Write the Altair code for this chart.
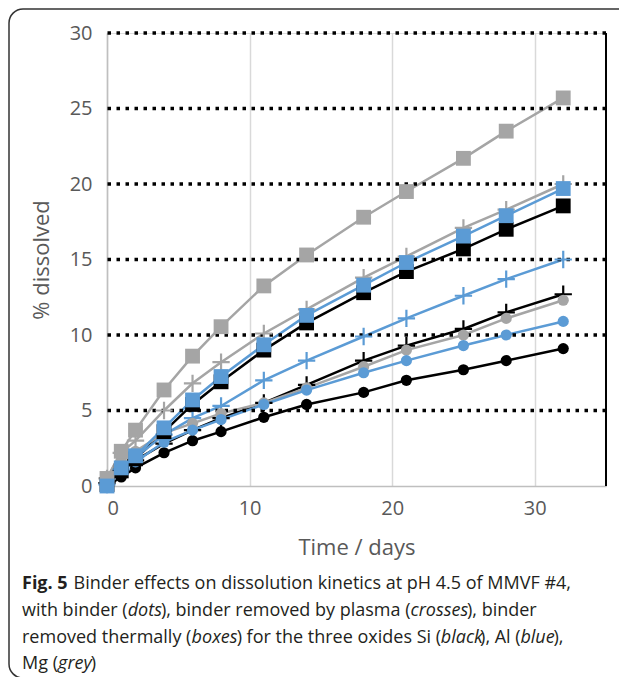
import altair as alt
import pandas as pd

# ---------------- data ----------------
days = [0, 1, 2, 4, 6, 8, 11, 14, 18, 21, 25, 28, 32]

si_dots = [0.0, 0.6, 1.2, 2.2, 3.0, 3.6, 4.55, 5.4, 6.2, 7.0, 7.7, 8.3, 9.1]
si_crosses = [0.2, 1.0, 1.7, 2.8, 3.7, 4.5, 5.5, 6.7, 8.3, 9.3, 10.4, 11.5, 12.7]
si_boxes = [0.1, 1.0, 1.8, 3.6, 5.4, 6.9, 9.0, 10.8, 12.8, 14.2, 15.7, 17.0, 18.55]
al_dots = [0.0, 0.95, 1.6, 2.9, 3.7, 4.4, 5.4, 6.35, 7.5, 8.3, 9.3, 10.0, 10.9]
al_crosses = [0.1, 1.1, 1.9, 3.4, 4.5, 5.3, 7.0, 8.3, 9.9, 11.1, 12.6, 13.7, 15.0]
al_boxes = [0.0, 1.2, 2.0, 3.85, 5.7, 7.25, 9.35, 11.3, 13.3, 14.8, 16.55, 17.9, 19.7]
mg_dots = [0.5, 1.6, 2.3, 3.5, 4.15, 4.8, 5.5, 6.5, 7.9, 9.0, 10.0, 11.1, 12.3]
mg_crosses = [0.5, 2.2, 3.0, 5.0, 6.8, 8.2, 10.1, 11.7, 13.8, 15.2, 17.1, 18.3, 20.0]
mg_boxes = [0.5, 2.3, 3.7, 6.36, 8.6, 10.55, 13.25, 15.3, 17.8, 19.5, 21.7, 23.5, 25.7]

oxides = ["Si", "Al", "Mg"]
oxide_colors = ["#000000", "#5b9bd5", "#a5a5a5"]
hgrid_values = [5, 10, 15, 20, 25, 30]
x_ticks = [0, 10, 20, 30]
y_ticks = [0, 5, 10, 15, 20, 25, 30]

series = [
    ("Si", "dots", si_dots), ("Si", "crosses", si_crosses), ("Si", "boxes", si_boxes),
    ("Mg", "dots", mg_dots), ("Mg", "crosses", mg_crosses), ("Mg", "boxes", mg_boxes),
    ("Al", "dots", al_dots), ("Al", "crosses", al_crosses), ("Al", "boxes", al_boxes),
]

rows = []
for k, (ox, tr, vals) in enumerate(series):
    for d, v in zip(days, vals):
        rows.append({"day": d, "pct": v, "oxide": ox, "treat": tr,
                     "series": f"{k}_{ox}_{tr}"})
df = pd.DataFrame(rows)

# ---------------- layout ----------------
W, H = 499, 453
PAD = {"left": 99, "top": 25, "right": 13, "bottom": 191}
LABEL = "#595959"
FONT = "Open Sans"

xscale = alt.Scale(domain=[0, 35], nice=False, zero=False)
yscale = alt.Scale(domain=[0, 30], nice=False)
color = alt.Color("oxide:N", scale=alt.Scale(domain=oxides, range=oxide_colors), legend=None)

xenc = alt.X("day:Q", scale=xscale, axis=alt.Axis(
    values=x_ticks, grid=True, gridColor="#d9d9d9", gridWidth=1.5,
    domainColor="#bfbfbf", domainWidth=1.5, ticks=False,
    labelFontSize=20, labelColor=LABEL, labelPadding=12, labelFont=FONT,
    title="Time / days", titleFontSize=22, titleFontWeight="normal",
    titleColor=LABEL, titleFont=FONT, titlePadding=19))
yenc = alt.Y("pct:Q", scale=yscale, axis=alt.Axis(
    values=y_ticks, grid=False, domainColor="#bfbfbf", domainWidth=1.5,
    ticks=False, labelFontSize=20, labelColor=LABEL, labelPadding=15,
    labelFont=FONT,
    title="% dissolved", titleFontSize=22, titleFontWeight="normal",
    titleColor=LABEL, titleFont=FONT, titlePadding=16))

base = alt.Chart(df)

hgrid = alt.Chart(pd.DataFrame({"v": hgrid_values})).mark_rule(
    color="black", strokeWidth=3.5, strokeDash=[3.5, 5.5]
).encode(y=alt.Y("v:Q", scale=yscale))

right_border = alt.Chart(pd.DataFrame({"v": [35]})).mark_rule(
    color="black", strokeWidth=2
).encode(x=alt.X("v:Q", scale=xscale))

lines = base.mark_line(strokeWidth=2.5).encode(
    x=xenc, y=yenc, color=color, detail="series:N", order="day:Q")

dots = base.transform_filter(alt.datum.treat == "dots").mark_circle(
    size=125, opacity=1).encode(x="day:Q", y="pct:Q", color=color)
boxes = base.transform_filter(alt.datum.treat == "boxes").mark_square(
    size=220, opacity=1).encode(x="day:Q", y="pct:Q", color=color)
crosses = base.transform_filter(alt.datum.treat == "crosses").mark_point(
    shape="M-1,0L1,0M0,-1L0,1", size=300, filled=False, strokeWidth=2.2,
    opacity=1).encode(x="day:Q", y="pct:Q", color=color)

# frame around the figure
one = pd.DataFrame({"a": [0]})
frame = alt.Chart(one).mark_rect(
    fillOpacity=0, stroke="#333333", strokeWidth=1.5, cornerRadius=14
).encode(x=alt.value(-98), x2=alt.value(560), y=alt.value(-24), y2=alt.value(645))

# caption (rich text laid out from segments)
CAP_FONT = "Open Sans"
CAP_SIZE = 18
OS = {' ': 532, '!': 547, '#': 1323, '(': 604, ')': 604, ',': 502, '.': 545,
      '/': 760, 'A': 1296, 'B': 1327, 'F': 1057, 'M': 1849, 'S': 1098,
      'V': 1235, 'H': 1511, 'I': 571,
      'a': 1139, 'b': 1255, 'c': 975, 'd': 1255, 'e': 1149, 'f': 694,
      'g': 1122, 'h': 1257, 'i': 518, 'j': 518, 'k': 1075, 'l': 518,
      'm': 1905, 'n': 1257, 'o': 1237, 'p': 1255, 'q': 1255, 'r': 836,
      's': 977, 't': 723, 'u': 1257, 'v': 1026, 'w': 1593, 'x': 1073,
      'y': 1028, 'z': 977}


def tw(s, style):
    w = 0
    for ch in s:
        w += OS.get(ch, 1171)
    f = 1.0
    if style == "bold":
        f = 1.08
    elif style == "italic":
        f = 0.9
    return w / 2048 * CAP_SIZE * f


caption_lines = [
    [("Fig. 5", "bold"), (" Binder effects on dissolution kinetics at pH 4.5 of MMVF #4,", "normal")],
    [("with binder (", "normal"), ("dots", "italic"), ("), binder removed by plasma (", "normal"),
     ("crosses", "italic"), ("), binder", "normal")],
    [("removed thermally (", "normal"), ("boxes", "italic"),
     (") for the three oxides Si (", "normal"), ("black", "italic"), ("), Al (", "normal"),
     ("blue", "italic"), ("),", "normal")],
    [("Mg (", "normal"), ("grey", "italic"), (")", "normal")],
]
baselines = [556, 583, 610, 636]

caption_layers = []
for line, yb in zip(caption_lines, baselines):
    xcur = -85
    for txt, style in line:
        lead = len(txt) - len(txt.lstrip(" "))
        xcur += tw(" " * lead, style)
        body = txt.strip(" ")
        kw = dict(align="left", baseline="alphabetic", font=CAP_FONT,
                  fontSize=CAP_SIZE, color="#231f20")
        if style == "bold":
            kw["fontWeight"] = "bold"
        if style == "italic":
            kw["fontStyle"] = "italic"
        caption_layers.append(
            alt.Chart(one).mark_text(text=body, **kw).encode(
                x=alt.value(xcur), y=alt.value(yb)))
        xcur += tw(txt.lstrip(" "), style)

chart = alt.layer(
    lines, hgrid, right_border, crosses, dots, boxes, frame, *caption_layers
).resolve_scale(color="shared").properties(
    width=W, height=H,
    autosize=alt.AutoSizeParams(type="none"),
    padding=PAD,
).configure_view(stroke=None).configure(background="white")

chart.save("out.html", embed_options={"renderer": "svg", "actions": False})
